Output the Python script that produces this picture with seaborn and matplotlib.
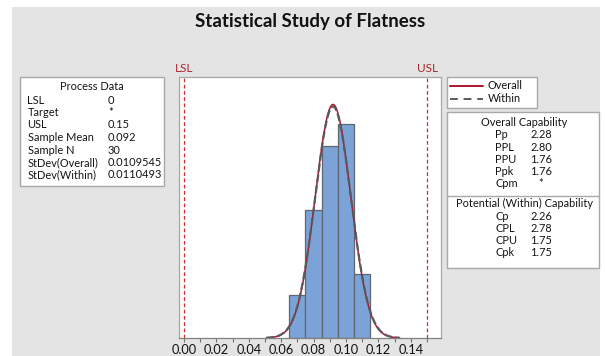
import numpy as np
import pandas as pd
import matplotlib
matplotlib.use("Agg")
import matplotlib.pyplot as plt
import matplotlib.transforms as mtransforms
import seaborn as sns
from matplotlib.patches import Rectangle


# Histogram: bin centers and counts (N = 30)
bin_centers = [0.07, 0.08, 0.09, 0.10, 0.11]
bin_counts = [2, 6, 9, 10, 3]
bin_width = 0.01

# Spec limits and fitted normal parameters
lsl = 0.0
usl = 0.15
sample_mean = 0.092
sd_overall = 0.0109545
sd_within = 0.0110493

# Text tables
process_labels = ["LSL", "Target", "USL", "Sample Mean", "Sample N", "StDev(Overall)", "StDev(Within)"]
process_values = ["0", "*", "0.15", "0.092", "30", "0.0109545", "0.0110493"]
overall_labels = ["Pp", "PPL", "PPU", "Ppk", "Cpm"]
overall_values = ["2.28", "2.80", "1.76", "1.76", "*"]
within_labels = ["Cp", "CPL", "CPU", "Cpk"]
within_values = ["2.26", "2.78", "1.75", "1.75"]

x_ticks = [0.00, 0.02, 0.04, 0.06, 0.08, 0.10, 0.12, 0.14]
x_minor = [0.01, 0.03, 0.05, 0.07, 0.09, 0.11, 0.13, 0.15]

sns.set_style("white")
plt.rcParams["font.family"] = ["Lato", "DejaVu Sans"]

W, H = 605, 356
fig = plt.figure(figsize=(W / 100, H / 100), dpi=100)
fig.patch.set_facecolor("white")

# Background layer in pixel coordinates for boxes and text
bg = fig.add_axes([0, 0, 1, 1], zorder=0)
bg.set_xlim(0, W)
bg.set_ylim(H, 0)
bg.axis("off")
bg.add_patch(Rectangle((12, 7), 588, 349, facecolor="#e4e4e4", edgecolor="none"))

# Main histogram axes
ax = fig.add_axes([179 / W, 1 - 338 / H, 262 / W, 261 / H], zorder=2)
ax.set_facecolor("white")

edges = [c - bin_width / 2 for c in bin_centers] + [bin_centers[-1] + bin_width / 2]
sns.histplot(x=bin_centers, weights=bin_counts, bins=edges, stat="density",
             color="#7ba3d8", edgecolor="#5f6670", linewidth=0.9, alpha=1, ax=ax)

# Fitted normal curves
xs = np.linspace(sample_mean - 3.75 * sd_overall, sample_mean + 3.75 * sd_overall, 300)
curves = pd.DataFrame({
    "x": xs,
    "Overall": np.exp(-0.5 * ((xs - sample_mean) / sd_overall) ** 2) / (sd_overall * np.sqrt(2 * np.pi)),
    "Within": np.exp(-0.5 * ((xs - sample_mean) / sd_within) ** 2) / (sd_within * np.sqrt(2 * np.pi)),
})
sns.lineplot(data=curves, x="x", y="Overall", color="#b0142c", linewidth=1.1, ax=ax)
sns.lineplot(data=curves, x="x", y="Within", color="#5a5a5a", linewidth=1.6,
             linestyle=(0, (3.5, 1.4)), ax=ax)

# Spec limit lines
for v, name in [(lsl, "LSL"), (usl, "USL")]:
    ax.axvline(v, color="#d42a2a", linestyle=(0, (3, 2)), linewidth=0.9)
    ax.text(v, 1.012, name, transform=mtransforms.blended_transform_factory(ax.transData, ax.transAxes),
            ha="center", va="bottom", color="#a8282c", fontsize=8.5)

ax.set_xlim(-0.003, 0.1586)
ax.set_ylim(0, 40.7)
ax.set_xticks(x_ticks)
ax.set_xticks(x_minor, minor=True)
ax.set_xticklabels([f"{t:.2f}" for t in x_ticks])
ax.set_yticks([])
ax.set_xlabel("")
ax.set_ylabel("")
ax.tick_params(axis="x", which="both", bottom=True, length=3, width=0.8,
               color="#707070", labelsize=9.2, pad=1.5, labelcolor="#111111")
for side in ["top", "left", "right"]:
    ax.spines[side].set_color("#a8a8a8")
    ax.spines[side].set_linewidth(0.9)
ax.spines["bottom"].set_color("#808080")
ax.spines["bottom"].set_linewidth(0.9)

# Title
bg.text(310, 21, "Statistical Study of Flatness", ha="center", va="center",
        fontsize=13.5, fontweight="bold", color="#111111")

fs = 7.9
tc = "#141414"
box_kw = dict(facecolor="white", edgecolor="#a8a8a8", linewidth=1)

# Process data box
bg.add_patch(Rectangle((20, 77), 144, 109, **box_kw))
bg.text(92, 86, "Process Data", ha="center", va="center", fontsize=fs, color=tc)
for i, (lab, val) in enumerate(zip(process_labels, process_values)):
    y = 100 + 12.5 * i
    bg.text(27.5, y, lab, ha="left", va="center", fontsize=fs, color=tc)
    bg.text(108, y, val, ha="left", va="center", fontsize=fs, color=tc)

# Legend box
bg.add_patch(Rectangle((447, 77), 90, 31, **box_kw))
bg.plot([450, 483], [85.5, 85.5], color="#b0142c", linewidth=1.4)
bg.plot([450, 483], [99, 99], color="#595959", linewidth=1.4, linestyle=(0, (4, 3)))
bg.text(488, 85.5, "Overall", ha="left", va="center", fontsize=fs, color=tc)
bg.text(488, 99, "Within", ha="left", va="center", fontsize=fs, color=tc)

# Capability box
bg.add_patch(Rectangle((447, 112), 152, 156, **box_kw))
bg.plot([447, 599], [195.5, 195.5], color="#a8a8a8", linewidth=1)
bg.text(524, 122, "Overall Capability", ha="center", va="center", fontsize=fs, color=tc)
for i, (lab, val) in enumerate(zip(overall_labels, overall_values)):
    y = 135 + 12.1 * i
    bg.text(495, y, lab, ha="left", va="center", fontsize=fs, color=tc)
    bg.text(541, y, val, ha="center", va="center", fontsize=fs, color=tc)
bg.text(524, 203, "Potential (Within) Capability", ha="center", va="center", fontsize=fs, color=tc)
for i, (lab, val) in enumerate(zip(within_labels, within_values)):
    y = 216 + 12.2 * i
    bg.text(495, y, lab, ha="left", va="center", fontsize=fs, color=tc)
    bg.text(541, y, val, ha="center", va="center", fontsize=fs, color=tc)

fig.savefig("out.png", dpi=100)
